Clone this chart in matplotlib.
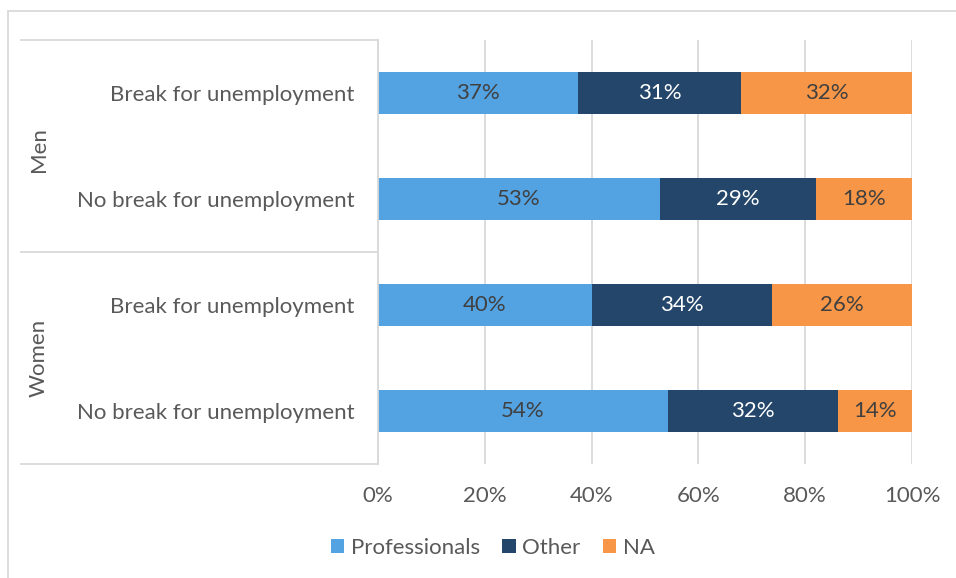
import matplotlib
matplotlib.use("Agg")
import matplotlib.pyplot as plt
from matplotlib.lines import Line2D
from matplotlib.patches import Rectangle, Patch
import numpy as np

plt.rcParams['font.family'] = ['Lato', 'DejaVu Sans']

categories = ["Break for unemployment", "No break for unemployment",
              "Break for unemployment", "No break for unemployment"]
groups = ["Men", "Women"]
series = ["Professionals", "Other", "NA"]
professionals = [37.5, 52.8, 40.1, 54.3]
other = [30.5, 29.2, 33.7, 31.8]
na = [32.0, 18.0, 26.2, 13.9]
label_prof = ["37%", "53%", "40%", "54%"]
label_other = ["31%", "29%", "34%", "32%"]
label_na = ["32%", "18%", "26%", "14%"]
xticks = [0, 20, 40, 60, 80, 100]
xtick_labels = ["0%", "20%", "40%", "60%", "80%", "100%"]

colors = ["#53A2E2", "#24466A", "#F79646"]
text_colors = ["#404040", "#FFFFFF", "#404040"]
grid_c = "#D9D9D9"
tick_c = "#595959"
FS = 16

W, H = 956, 578
fig = plt.figure(figsize=(W / 100, H / 100), dpi=100)

def fx(px):
    return px / W

def fy(py):
    return 1 - py / H

ax = fig.add_axes([fx(378), fy(464), fx(912) - fx(378), fy(40) - fy(464)])

y = np.arange(len(categories))
vals = [professionals, other, na]
labs = [label_prof, label_other, label_na]
left = np.zeros(len(categories))
for i, (v, lab) in enumerate(zip(vals, labs)):
    v = np.array(v)
    bars = ax.barh(y, v, left=left, height=0.4, color=colors[i], label=series[i], zorder=3)
    for b, t in zip(bars, lab):
        ax.text(b.get_x() + b.get_width() / 2, b.get_y() + b.get_height() / 2, t,
                ha="center", va="center", color=text_colors[i], fontsize=FS, zorder=4)
    left += v

ax.set_xlim(0, 100)
ax.set_ylim(len(categories) - 0.5, -0.5)
ax.set_xticks(xticks)
ax.set_xticklabels(xtick_labels)
ax.set_yticks(y)
ax.set_yticklabels(categories)
ax.tick_params(axis="both", length=0, colors=tick_c, labelsize=FS)
ax.tick_params(axis="x", pad=16)
ax.tick_params(axis="y", pad=17)
ax.grid(axis="x", color=grid_c, linewidth=1.3, zorder=0)
for s in ["top", "right", "bottom"]:
    ax.spines[s].set_visible(False)
ax.spines["left"].set_color(grid_c)
ax.spines["left"].set_linewidth(1.3)
ax.spines["left"].set_zorder(5)

# group separators
for py in [40, 252, 464]:
    fig.add_artist(Line2D([fx(21), fx(378)], [fy(py), fy(py)], color=grid_c, linewidth=1.3))
fig.text(fx(39), fy(150), groups[0], rotation=90, ha="center", va="center", color=tick_c, fontsize=FS)
fig.text(fx(39), fy(358), groups[1], rotation=90, ha="center", va="center", color=tick_c, fontsize=FS)

# outer frame
fig.add_artist(Rectangle((fx(8), -0.1), 1.2, fy(11) + 0.1, fill=False, edgecolor=grid_c,
                         linewidth=1.3, transform=fig.transFigure))

handles = [Patch(facecolor=c) for c in colors]
fig.legend(handles, series, loc="center", bbox_to_anchor=(fx(493), fy(548)), ncol=3, frameon=False,
           fontsize=FS, labelcolor=tick_c, handlelength=0.6, handleheight=0.6,
           handletextpad=0.3, columnspacing=1.0)

fig.savefig("out.png", dpi=100)
